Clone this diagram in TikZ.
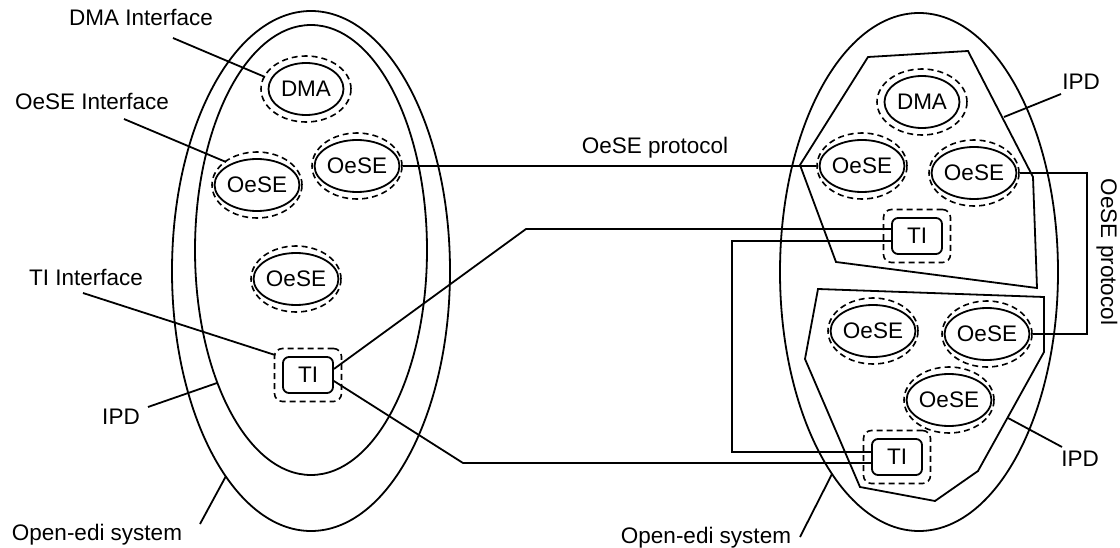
\documentclass[tikz,border=0pt]{standalone}
\usepackage{fontspec}
\setmainfont{Liberation Sans}
\usetikzlibrary{shapes.geometric}
\begin{document}
\begin{tikzpicture}[x=1pt,y=-1pt,
  every node/.style={font=\fontsize{22.5}{27}\selectfont},
  lw/.style={line width=1.8pt},
  sol/.style={ellipse,draw,line width=1.8pt,minimum width=75pt,minimum height=52pt,inner sep=0pt},
  dsh/.style={ellipse,draw,line width=1.6pt,dash pattern=on 6pt off 4pt,minimum width=90pt,minimum height=66pt,inner sep=0pt},
  tib/.style={rectangle,draw,rounded corners=6pt,line width=1.8pt,minimum width=50pt,minimum height=36pt,inner sep=0pt},
  tid/.style={rectangle,draw,rounded corners=8pt,line width=1.6pt,dash pattern=on 6pt off 4pt,minimum width=67pt,minimum height=53pt,inner sep=0pt},
  lab/.style={anchor=base,inner sep=0pt},
  big/.style={ellipse,draw,line width=1.8pt,inner sep=0pt}
]
\useasboundingbox (0,0) rectangle (1120,548);

% systems
\node[big,minimum width=278pt,minimum height=520pt] (Lsys) at (311,271) {};
\node[big,minimum width=232pt,minimum height=450pt] (Lipd) at (311,250) {};
\node[big,minimum width=278pt,minimum height=518pt] (Rsys) at (919,272) {};

% IPD polygons (right)
\draw[lw] (800,165) -- (868,57) -- (968,51) -- (1033,177) -- (1037,288) -- (836,262) -- cycle;
\draw[lw] (818,289) -- (1044,297) -- (1044,352) -- (978,471) -- (935,501) -- (860,487) -- (805,359) -- cycle;

% left elements
\node[dsh] (dmaLd) at (306,89) {};
\node[sol] (dmaL) at (306,89) {DMA};
\node[dsh] (oL1d) at (257,185) {};
\node[sol] (oL1) at (257,185) {OeSE};
\node[dsh] (oL2d) at (357,166) {};
\node[sol] (oL2) at (357,166) {OeSE};
\node[dsh] (oL3d) at (296,279) {};
\node[sol] (oL3) at (296,279) {OeSE};
\node[tid] (tiLd) at (308,375) {};
\node[tib] (tiL) at (308,375) {TI};

% right elements
\node[dsh] (dmaRd) at (922,102) {};
\node[sol] (dmaR) at (922,102) {DMA};
\node[dsh] (oR1d) at (862,166) {};
\node[sol] (oR1) at (862,166) {OeSE};
\node[dsh] (oR2d) at (974,173) {};
\node[sol] (oR2) at (974,173) {OeSE};
\node[tid] (tiR1d) at (917,236) {};
\node[tib] (tiR1) at (917,236) {TI};
\node[dsh] (oR3d) at (873,331) {};
\node[sol] (oR3) at (873,331) {OeSE};
\node[dsh] (oR4d) at (987,334) {};
\node[sol] (oR4) at (987,334) {OeSE};
\node[dsh] (oR5d) at (949,400) {};
\node[sol] (oR5) at (949,400) {OeSE};
\node[tid] (tiR2d) at (897,457) {};
\node[tib] (tiR2) at (897,457) {TI};

% connectors
\draw[lw] (oL2d.east) -- (oR1d.west);
\coordinate (b1) at (526,229);
\coordinate (b2) at (463,463);
\draw[lw] ([yshift=6pt]tiL.east) -- (b1) -- ([yshift=7pt]tiR1.west);
\draw[lw] ([yshift=-6pt]tiL.east) -- (b2) -- ([yshift=-6pt]tiR2.west);
\draw[lw] ([yshift=-5pt]tiR1.west) -- ++(-159,0) |- ([yshift=5pt]tiR2.west);
\draw[lw] (oR2d.east) -- ++(67.5,0) |- (oR4d.east);

% labels
\node[lab] (tDMAI) at (141,26) {DMA Interface};
\node[lab] (tOeSEI) at (92,110) {OeSE Interface};
\node[lab] (tTII) at (86,286) {TI Interface};
\node[lab] (tIPDL) at (121,424) {IPD};
\node[lab] (tOpenL) at (97,540) {Open-edi system};
\node[lab] (tProt) at (655,154) {OeSE protocol};
\node[lab] (tIPDR1) at (1081,90) {IPD};
\node[lab] (tIPDR2) at (1080,466) {IPD};
\node[lab] (tOpenR) at (706,543) {Open-edi system};
\node[rotate=-90,inner sep=0pt] (tProtV) at (1107,252) {OeSE protocol};

% leaders
\coordinate (l1a) at (173,38);  \coordinate (l1b) at (265,77);
\coordinate (l2a) at (124,119); \coordinate (l2b) at (226,162);
\coordinate (l3a) at (83,293);  \coordinate (l3b) at (275,355);
\coordinate (l4a) at (148,407); \coordinate (l4b) at (217,383);
\coordinate (l5a) at (200,524); \coordinate (l5b) at (226,476);
\coordinate (l6a) at (1061,94); \coordinate (l6b) at (1004,117);
\coordinate (l7a) at (1062,447);\coordinate (l7b) at (1008,418);
\coordinate (l8a) at (800,537); \coordinate (l8b) at (832,474);
\draw[lw] (l1a) -- (l1b);
\draw[lw] (l2a) -- (l2b);
\draw[lw] (l3a) -- (l3b);
\draw[lw] (l4a) -- (l4b);
\draw[lw] (l5a) -- (l5b);
\draw[lw] (l6a) -- (l6b);
\draw[lw] (l7a) -- (l7b);
\draw[lw] (l8a) -- (l8b);
\end{tikzpicture}
\end{document}
